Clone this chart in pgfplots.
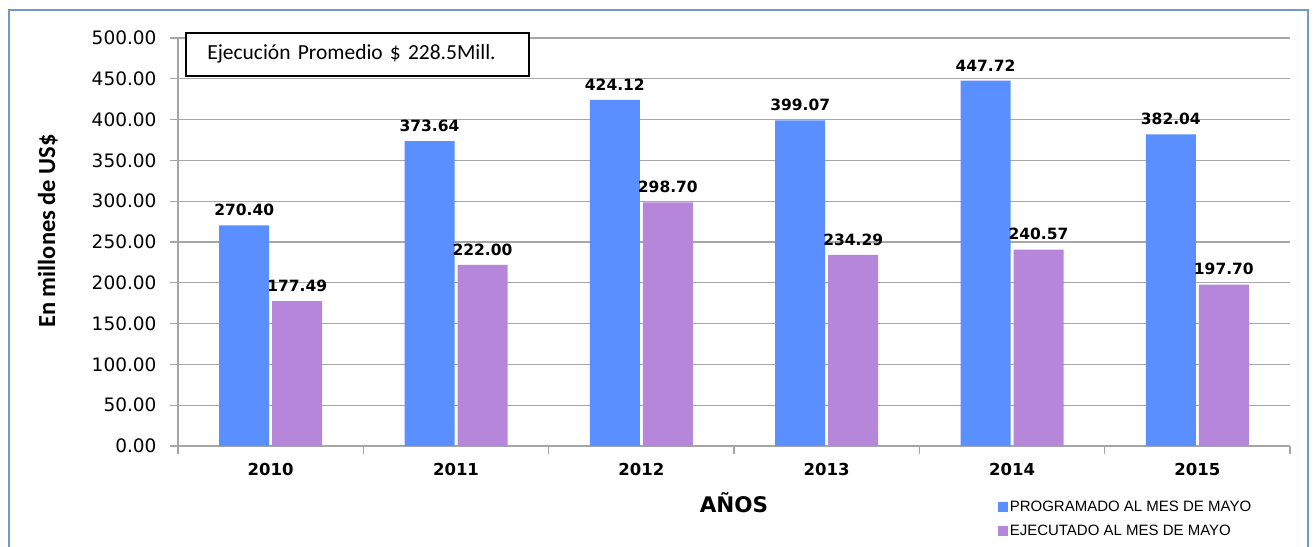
\documentclass[border=0pt]{standalone}
\usepackage{pgfplots}
\pgfplotsset{compat=1.18}
\usepackage{fontspec}
\setmainfont{DejaVu Sans}
\newfontfamily\arialf{Liberation Sans}
\newfontfamily\calibrif{Carlito}
\definecolor{progblue}{HTML}{5A8FFF}
\definecolor{ejepurple}{HTML}{B586DA}
\definecolor{framec}{HTML}{7396CC}
\definecolor{gridc}{HTML}{A6A6A6}
\begin{document}
\begin{tikzpicture}[x=1pt,y=1pt]
\useasboundingbox (0,0) rectangle (1314,546);
\draw[framec, line width=2pt] (9,-2) -- (9,536) -- (1308,536) -- (1308,-2);
\begin{axis}[
  at={(178pt,100pt)}, anchor=south west,
  scale only axis, width=1112pt, height=408pt,
  ymin=0, ymax=500, xmin=-0.5, xmax=5.5,
  clip=false,
  ybar, bar width=50pt,
  axis x line*=bottom, axis y line*=left,
  axis line style={gridc, line width=1.2pt, -},
  ymajorgrids, grid style={gridc, line width=1.2pt},
  ytick={0,50,...,500},
  tick align=outside,
  major tick length=8pt,
  tick style={gridc, line width=1.2pt},
  xtick={0,1,2,3,4,5},
  xticklabels={2010,2011,2012,2013,2014,2015},
  minor xtick={-0.5,0.5,1.5,2.5,3.5,4.5,5.5},
  x tick style={draw=none},
  minor x tick style={draw=gridc, line width=1.2pt},
  minor tick length=8pt,
  xticklabel style={font=\fontsize{16.5}{18}\selectfont\bfseries, yshift=-6pt},
  yticklabel style={font=\fontsize{18.5}{20}\selectfont, xshift=-10pt},
  /pgf/number format/assume math mode=true,
  yticklabel={\pgfmathprintnumber[fixed,fixed zerofill,precision=2]{\tick}},
  xlabel={AÑOS},
  xlabel style={font=\fontsize{21.5}{24}\selectfont\bfseries, at={(axis description cs:0.5,-0.14)}, anchor=center},
  ylabel={En millones de US\$},
  ylabel style={font=\calibrif\fontsize{24.5}{26}\selectfont\bfseries, at={(axis description cs:-0.117,0.527)}, anchor=center},
  nodes near coords,
  nodes near coords style={font=\fontsize{15.5}{18}\selectfont\bfseries, /pgf/number format/.cd, fixed, fixed zerofill, precision=2, /tikz/.cd, yshift=6pt},
  legend style={draw=none, fill=none, inner sep=0pt, font=\arialf\fontsize{15}{17}\selectfont,
    at={(axis description cs:0.737,-0.13)}, anchor=north west, row sep=8pt, cells={anchor=west}},
  legend cell align=left,
]
\addplot[fill=progblue, draw=none, bar shift=-26.5pt,
  legend image code/.code={\fill[progblue] (0pt,-5pt) rectangle (10pt,5pt);}]
  coordinates {(0,270.40) (1,373.64) (2,424.12) (3,399.07) (4,447.72) (5,382.04)};
\addlegendentry{PROGRAMADO AL MES DE MAYO}
\addplot[fill=ejepurple, draw=none, bar shift=26.5pt,
  legend image code/.code={\fill[ejepurple] (0pt,-5pt) rectangle (10pt,5pt);}]
  coordinates {(0,177.49) (1,222.00) (2,298.70) (3,234.29) (4,240.57) (5,197.70)};
\addlegendentry{EJECUTADO AL MES DE MAYO}
\node[draw=black, line width=1.5pt, fill=white, anchor=north west, minimum width=343pt, minimum height=43pt,
  inner xsep=21pt, text width=300pt, align=left, font=\calibrif\fontsize{21.5}{24}\selectfont]
  at (axis description cs:0.0063,1.0147) {Ejecución Promedio \$ 228.5Mill.};
\end{axis}
\end{tikzpicture}
\end{document}
